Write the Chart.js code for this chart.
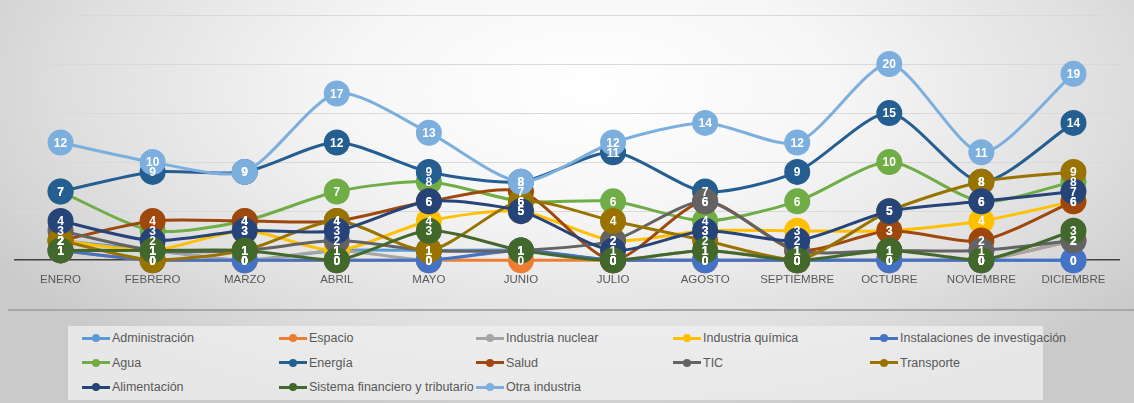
<!DOCTYPE html>
<html>
<head>
<meta charset="utf-8">
<script src="https://cdn.jsdelivr.net/npm/chart.js@4.4.1/dist/chart.umd.min.js"></script>
<style>
  html, body { margin: 0; padding: 0; }
  body {
    width: 1134px; height: 403px; overflow: hidden; position: relative;
    background: radial-gradient(ellipse 62% 85% at 52% 22%, #ffffff 0%, #f6f6f6 35%, #dedede 75%, #cacaca 100%);
    font-family: "Liberation Sans", Arial, sans-serif;
  }
  #wrap { position: absolute; left: 0; top: 0; width: 1134px; height: 300px; }
  #sep { position: absolute; left: 8px; right: 0; top: 309px; height: 2px; background: #a8a8a8; }
  #legend {
    position: absolute; left: 68px; top: 326px; width: 975px; height: 74px;
    background: rgba(240,240,240,0.75);
    display: grid; grid-template-columns: repeat(5, 197px); grid-auto-rows: 24.5px;
    padding-left: 14px; box-sizing: border-box;
  }
  .item { display: flex; align-items: center; font-size: 12.5px; color: #595959; white-space: nowrap; }
  .icon { position: relative; width: 28px; height: 10px; margin-right: 2px; flex: none; }
  .icon .ln { position: absolute; left: 0; right: 0; top: 3.5px; height: 3px; }
  .icon .dot { position: absolute; left: 10px; top: 1px; width: 8px; height: 8px; border-radius: 50%; }
</style>
</head>
<body>
<div id="wrap"><canvas id="lineChart"></canvas></div>
<div id="sep"></div>
<div id="legend"></div>
<script>
const months = ['ENERO', 'FEBRERO', 'MARZO', 'ABRIL', 'MAYO', 'JUNIO', 'JULIO',
  'AGOSTO', 'SEPTIEMBRE', 'OCTUBRE', 'NOVIEMBRE', 'DICIEMBRE'];

const administracion = [2, 1, 0, 1, 1, 1, 0, 0, 0, 0, 0, 0];
const espacio = [1, 0, 0, 0, 0, 0, 0, 0, 0, 0, 0, 2];
const industriaNuclear = [1, 1, 0, 1, 0, 1, 0, 1, 0, 0, 0, 2];
const industriaQuimica = [2, 1, 3, 1, 4, 5, 2, 3, 3, 3, 4, 6];
const instalaciones = [1, 0, 0, 0, 0, 1, 0, 0, 0, 0, 0, 0];
const agua = [7, 3, 4, 7, 8, 6, 6, 4, 6, 10, 6, 8];
const energia = [7, 9, 9, 12, 9, 8, 11, 7, 9, 15, 8, 14];
const salud = [2, 4, 4, 4, 6, 7, 0, 6, 1, 3, 2, 6];
const tic = [3, 1, 1, 2, 1, 1, 2, 6, 1, 1, 1, 2];
const transporte = [2, 0, 1, 4, 1, 6, 4, 2, 0, 5, 8, 9];
const alimentacion = [4, 2, 3, 3, 6, 5, 1, 3, 2, 5, 6, 7];
const sistemaFinanciero = [1, 1, 1, 0, 3, 1, 0, 1, 0, 1, 0, 3];
const otraIndustria = [12, 10, 9, 17, 13, 8, 12, 14, 12, 20, 11, 19];

const series = [
  { label: 'Administración', data: administracion, color: '#5B9BD5' },
  { label: 'Espacio', data: espacio, color: '#ED7D31' },
  { label: 'Industria nuclear', data: industriaNuclear, color: '#A5A5A5' },
  { label: 'Industria química', data: industriaQuimica, color: '#FFC000' },
  { label: 'Instalaciones de investigación', data: instalaciones, color: '#4472C4' },
  { label: 'Agua', data: agua, color: '#70AD47' },
  { label: 'Energía', data: energia, color: '#255E91' },
  { label: 'Salud', data: salud, color: '#9E480E' },
  { label: 'TIC', data: tic, color: '#636363' },
  { label: 'Transporte', data: transporte, color: '#997300' },
  { label: 'Alimentación', data: alimentacion, color: '#264478' },
  { label: 'Sistema financiero y tributario', data: sistemaFinanciero, color: '#43682B' },
  { label: 'Otra industria', data: otraIndustria, color: '#7CAFDD' }
];

// white numbers inside the markers, drawn after every line like Excel does
const valueLabels = {
  id: 'valueLabels',
  afterDatasetsDraw(chart) {
    const ctx = chart.ctx;
    ctx.save();
    ctx.font = 'bold 12px "Liberation Sans", Arial, sans-serif';
    ctx.fillStyle = '#ffffff';
    ctx.textAlign = 'center';
    ctx.textBaseline = 'middle';
    chart.data.datasets.forEach((ds, i) => {
      chart.getDatasetMeta(i).data.forEach((pt, j) => {
        ctx.fillText(String(ds.data[j]), pt.x, pt.y + 1);
      });
    });
    ctx.restore();
  }
};

function buildLineChart(canvasId) {
  const ctx = document.getElementById(canvasId).getContext('2d');
  return new Chart(ctx, {
    type: 'line',
    data: {
      labels: months,
      datasets: series.map((s, i) => ({
        label: s.label,
        data: s.data,
        borderColor: s.color,
        backgroundColor: s.color,
        pointBackgroundColor: s.color,
        pointBorderColor: s.color,
        pointRadius: 11.5,
        pointHoverRadius: 11.5,
        borderWidth: 3,
        tension: 0.25,
        clip: false,
        order: series.length - i
      }))
    },
    options: {
      responsive: true,
      maintainAspectRatio: false,
      animation: false,
      layout: { padding: { left: 10, right: 0, top: 15, bottom: 8 } },
      plugins: { legend: { display: false }, tooltip: { enabled: false } },
      scales: {
        x: {
          offset: true,
          grid: { display: false },
          border: { display: true, color: '#404040', width: 1.5 },
          ticks: { color: '#595959', font: { size: 11.5, family: '"Liberation Sans", Arial, sans-serif' }, padding: 5, maxRotation: 0 }
        },
        y: {
          min: 0,
          max: 25,
          ticks: { display: false, stepSize: 5 },
          border: { display: false },
          grid: {
            drawTicks: false,
            color: c => c.tick.value === 0 ? 'rgba(0,0,0,0)' : '#d9d9d9'
          },
          afterFit: axis => { axis.width = 0; }
        }
      }
    },
    plugins: [valueLabels]
  });
}

function buildLegend() {
  const box = document.getElementById('legend');
  series.forEach(s => {
    const item = document.createElement('div');
    item.className = 'item';
    item.innerHTML = '<span class="icon"><span class="ln" style="background:' + s.color +
      '"></span><span class="dot" style="background:' + s.color + '"></span></span>' + s.label;
    box.appendChild(item);
  });
}

buildLegend();
buildLineChart('lineChart');
</script>
</body>
</html>
